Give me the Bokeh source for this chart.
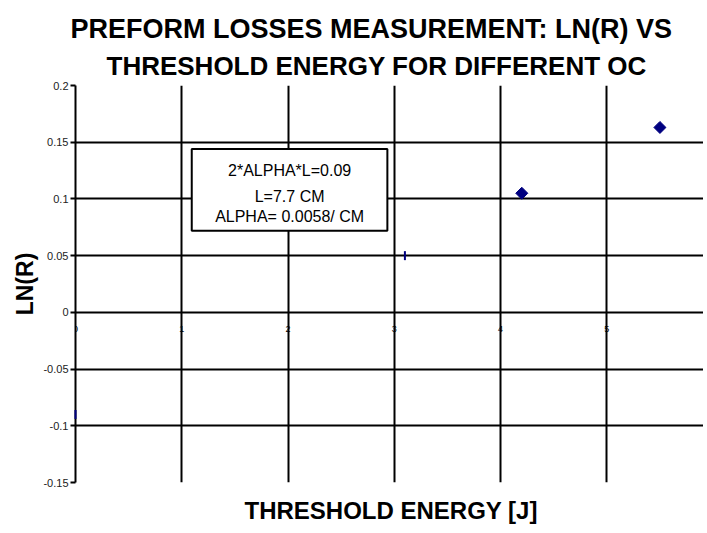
import math
from bokeh.plotting import figure
from bokeh.models import Range1d, FixedTicker, Title, Label, BoxAnnotation
from bokeh.embed import file_html
from bokeh.resources import INLINE

# ---- data ----
title_line1 = "PREFORM LOSSES MEASUREMENT: LN(R) VS"
title_line2 = "THRESHOLD ENERGY FOR DIFFERENT OC"
x_label = "THRESHOLD ENERGY [J]"
y_label = "LN(R)"
energy = [0.0, 3.1, 4.2, 5.5]
ln_r = [-0.09, 0.05, 0.105, 0.163]
x_ticks = [0, 1, 2, 3, 4, 5]
y_ticks = [-0.15, -0.1, -0.05, 0, 0.05, 0.1, 0.15, 0.2]
y_tick_labels = ["-0.15", "-0.1", "-0.05", "0", "0.05", "0.1", "0.15", "0.2"]
note_lines = ["2*ALPHA*L=0.09", "L=7.7 CM", "ALPHA= 0.0058/ CM"]

FONT = "Liberation Sans"
NAVY = "#000080"

p = figure(frame_width=628, frame_height=397,
           x_range=Range1d(0, 5.91), y_range=Range1d(-0.15, 0.2),
           output_backend="svg", toolbar_location=None,
           min_border_left=75, min_border_top=85, min_border_bottom=40,
           min_border_right=0)
p.outline_line_color = None
p.background_fill_color = "white"
p.border_fill_color = "white"

# titles (bottom line added first so it sits nearest the plot)
t2 = Title(text=title_line2, align="left", offset=31, text_font=FONT,
           text_font_size="26px", text_font_style="bold", text_color="black",
           standoff=9)
t1 = Title(text=title_line1, align="left", offset=-5, text_font=FONT,
           text_font_size="27px", text_font_style="bold", text_color="black",
           standoff=2)
p.add_layout(t2, "above")
p.add_layout(t1, "above")

# grid
p.xgrid.ticker = FixedTicker(ticks=x_ticks)
p.ygrid.ticker = FixedTicker(ticks=y_ticks)
for g in (p.xgrid, p.ygrid):
    g.grid_line_color = "black"
    g.grid_line_width = 2

# y axis
p.yaxis.ticker = FixedTicker(ticks=y_ticks)
p.yaxis.major_label_overrides = {t: s for t, s in zip(y_ticks, y_tick_labels)}
p.yaxis.axis_line_color = "black"
p.yaxis.axis_line_width = 2
p.yaxis.major_tick_line_color = "black"
p.yaxis.major_tick_line_width = 2
p.yaxis.major_tick_in = 0
p.yaxis.major_tick_out = 5
p.yaxis.minor_tick_line_color = None
p.yaxis.major_label_text_font = FONT
p.yaxis.major_label_text_font_size = "11px"
p.yaxis.major_label_text_color = "#222222"
p.yaxis.major_label_standoff = 2
p.yaxis.axis_label = y_label
p.yaxis.axis_label_text_font = FONT
p.yaxis.axis_label_text_font_size = "23px"
p.yaxis.axis_label_text_font_style = "bold"
p.yaxis.axis_label_text_color = "black"
p.yaxis.axis_label_standoff = 2

# x axis sits on y = 0
p.xaxis.fixed_location = 0
p.xaxis.ticker = FixedTicker(ticks=x_ticks)
p.xaxis.axis_line_color = None
p.xaxis.major_tick_line_color = None
p.xaxis.minor_tick_line_color = None
p.xaxis.major_label_text_font = FONT
p.xaxis.major_label_text_font_size = "9px"
p.xaxis.major_label_text_color = "black"
p.xaxis.major_label_standoff = 8

p.add_layout(Title(text=x_label, align="left", offset=169, text_font=FONT,
                   text_font_size="24px", text_font_style="bold",
                   text_color="black", standoff=25), "below")

# data marks
p.scatter(energy[:2], ln_r[:2], marker="dash", angle=math.pi / 2, size=9,
          line_color=NAVY, line_width=2, level="overlay")
p.scatter(energy[2:], ln_r[2:], marker="square", angle=math.pi / 4, size=8.5,
          fill_color=NAVY, line_color=NAVY)

# note box
box = BoxAnnotation(left=1.094, right=2.935, top=0.144, bottom=0.072,
                    fill_color="white", fill_alpha=1.0,
                    line_color="black", line_alpha=1.0, line_width=2)
p.add_layout(box)
for txt, yy in zip(note_lines, [0.125, 0.1025, 0.0845]):
    p.add_layout(Label(x=2.015, y=yy, text=txt, text_align="center",
                       text_baseline="middle", text_font=FONT,
                       text_font_size="16px", text_color="black"))

open("out.html", "w").write(file_html(p, INLINE))
